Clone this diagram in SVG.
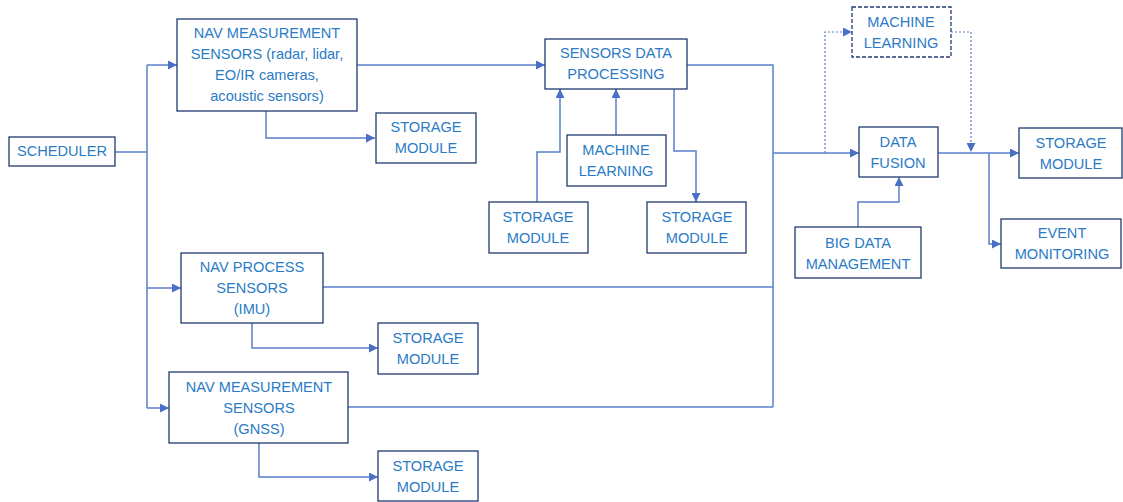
<svg xmlns="http://www.w3.org/2000/svg" width="1123" height="502" viewBox="0 0 1123 502">
<defs>
<style>
.box{fill:#fff;stroke:#1F3A70;stroke-width:1.3}
.dbox{fill:#fff;stroke:#1F3A70;stroke-width:1.3;stroke-dasharray:4 2}
.t{font-family:"Liberation Sans",Arial,sans-serif;font-size:14.6px;fill:#2A7BC6;text-anchor:middle}
.c{fill:none;stroke:#5A7FCC;stroke-width:1.5}
.d{fill:none;stroke:#5A7FCC;stroke-width:1.2;stroke-dasharray:2 2}
</style>
<marker id="a" viewBox="0 0 10 10" refX="10" refY="5" markerWidth="9" markerHeight="9" markerUnits="userSpaceOnUse" orient="auto">
<path d="M0,0L10,5L0,10z" fill="#4A6FC4"/>
</marker>
</defs>
<rect width="1123" height="502" fill="#fff"/>
<g id="connectors">
<path class="c" d="M115,152H147"/>
<path class="c" d="M147,65V408"/>
<path class="c" d="M147,65H177" marker-end="url(#a)"/>
<path class="c" d="M147,288H181" marker-end="url(#a)"/>
<path class="c" d="M147,408H169" marker-end="url(#a)"/>
<path class="c" d="M266,111V138H375" marker-end="url(#a)"/>
<path class="c" d="M357,65H545" marker-end="url(#a)"/>
<path class="c" d="M537,202V152H560V89" marker-end="url(#a)"/>
<path class="c" d="M616,135V89" marker-end="url(#a)"/>
<path class="c" d="M674,89V151H696V202" marker-end="url(#a)"/>
<path class="c" d="M687,65H773V407"/>
<path class="c" d="M323,287H773"/>
<path class="c" d="M348,407H773"/>
<path class="c" d="M773,153H859" marker-end="url(#a)"/>
<path class="c" d="M252,323V348H378" marker-end="url(#a)"/>
<path class="c" d="M259,443V477H378" marker-end="url(#a)"/>
<path class="c" d="M858,227V202H899V177" marker-end="url(#a)"/>
<path class="c" d="M938,153H1019" marker-end="url(#a)"/>
<path class="c" d="M989,153V244H1001" marker-end="url(#a)"/>
<path class="d" d="M825,153V32H852" marker-end="url(#a)"/>
<path class="d" d="M951,32H971V152" marker-end="url(#a)"/>
</g>
<g id="scheduler">
<rect class="box" x="9" y="137" width="106" height="29"/>
<text class="t" x="62" y="156">SCHEDULER</text>
</g>
<g id="nav-meas-1">
<rect class="box" x="177" y="19" width="180" height="92"/>
<text class="t" x="267" y="38">NAV MEASUREMENT</text>
<text class="t" x="267" y="59">SENSORS (radar, lidar,</text>
<text class="t" x="267" y="80">EO/IR cameras,</text>
<text class="t" x="267" y="101">acoustic sensors)</text>
</g>
<g id="storage-1">
<rect class="box" x="376" y="113" width="100" height="50"/>
<text class="t" x="426" y="132">STORAGE</text>
<text class="t" x="426" y="153">MODULE</text>
</g>
<g id="sdp">
<rect class="box" x="545" y="39" width="142" height="50"/>
<text class="t" x="616" y="58">SENSORS DATA</text>
<text class="t" x="616" y="79">PROCESSING</text>
</g>
<g id="ml-1">
<rect class="box" x="567" y="135" width="99" height="51"/>
<text class="t" x="616" y="155">MACHINE</text>
<text class="t" x="616" y="176">LEARNING</text>
</g>
<g id="storage-2">
<rect class="box" x="489" y="202" width="99" height="51"/>
<text class="t" x="538" y="222">STORAGE</text>
<text class="t" x="538" y="243">MODULE</text>
</g>
<g id="storage-3">
<rect class="box" x="647" y="202" width="99" height="51"/>
<text class="t" x="697" y="222">STORAGE</text>
<text class="t" x="697" y="243">MODULE</text>
</g>
<g id="nav-process">
<rect class="box" x="181" y="253" width="142" height="70"/>
<text class="t" x="252" y="272">NAV PROCESS</text>
<text class="t" x="252" y="293">SENSORS</text>
<text class="t" x="252" y="314">(IMU)</text>
</g>
<g id="storage-4">
<rect class="box" x="378" y="323" width="100" height="51"/>
<text class="t" x="428" y="343">STORAGE</text>
<text class="t" x="428" y="364">MODULE</text>
</g>
<g id="nav-meas-gnss">
<rect class="box" x="169" y="372" width="179" height="71"/>
<text class="t" x="259" y="392">NAV MEASUREMENT</text>
<text class="t" x="259" y="413">SENSORS</text>
<text class="t" x="259" y="434">(GNSS)</text>
</g>
<g id="storage-5">
<rect class="box" x="378" y="451" width="100" height="50"/>
<text class="t" x="428" y="471">STORAGE</text>
<text class="t" x="428" y="492">MODULE</text>
</g>
<g id="ml-2">
<rect class="dbox" x="852" y="7" width="99" height="50"/>
<text class="t" x="901" y="27">MACHINE</text>
<text class="t" x="901" y="48">LEARNING</text>
</g>
<g id="data-fusion">
<rect class="box" x="859" y="127" width="79" height="50"/>
<text class="t" x="898" y="147">DATA</text>
<text class="t" x="898" y="168">FUSION</text>
</g>
<g id="big-data">
<rect class="box" x="795" y="227" width="126" height="51"/>
<text class="t" x="858" y="248">BIG DATA</text>
<text class="t" x="858" y="269">MANAGEMENT</text>
</g>
<g id="storage-6">
<rect class="box" x="1019" y="128" width="103" height="50"/>
<text class="t" x="1071" y="148">STORAGE</text>
<text class="t" x="1071" y="169">MODULE</text>
</g>
<g id="event-monitoring">
<rect class="box" x="1001" y="219" width="120" height="49"/>
<text class="t" x="1062" y="238">EVENT</text>
<text class="t" x="1062" y="259">MONITORING</text>
</g>
</svg>
